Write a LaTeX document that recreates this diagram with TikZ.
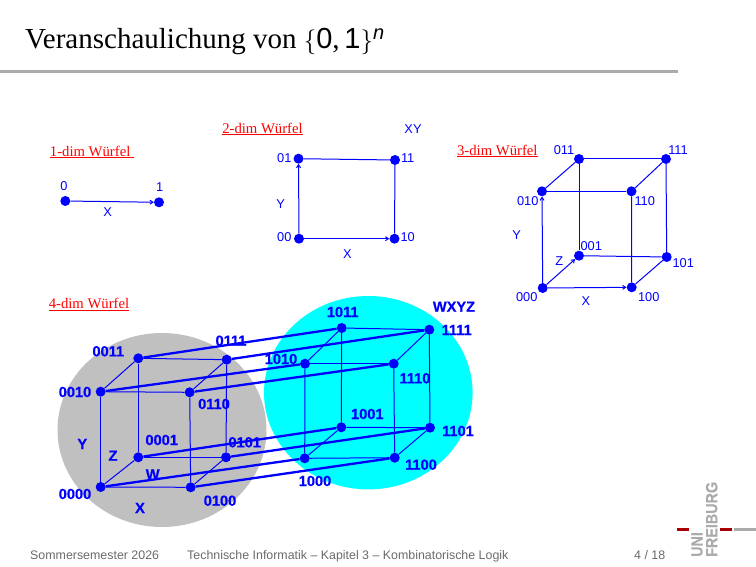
\documentclass[tikz,border=0pt]{standalone}
\usepackage{fontspec}
\setmainfont{Liberation Serif}
\setsansfont{Liberation Sans}
\newfontfamily\heavysans[BoldFeatures={FakeBold=0.6}]{Liberation Sans}
\usetikzlibrary{arrows.meta}
\definecolor{rulegrey}{HTML}{ABABAB}
\definecolor{footgrey}{HTML}{6A6A6A}
\definecolor{logored}{HTML}{A80000}
\definecolor{ballgrey}{HTML}{C0C0C0}
\definecolor{ballcyan}{HTML}{00FFFF}
\tikzset{
  dot/.style={circle,fill=blue,inner sep=0pt,minimum size=10pt},
  edge/.style={blue,line width=1pt},
  dimarrow/.style={edge,-{Straight Barb[length=3pt,width=4pt]}},
  bridge/.style={blue,line width=2.3pt},
  lab/.style={text=blue,inner sep=0pt,font=\sffamily\fontsize{12.8}{14}\selectfont},
  boldlab/.style={text=blue,inner sep=0pt,font=\heavysans\bfseries\fontsize{14.6}{16}\selectfont},
  heading/.style={text=red,inner sep=0pt,font=\rmfamily\fontsize{14.7}{18}\selectfont},
  foot/.style={text=footgrey,inner sep=0pt,anchor=base west,font=\sffamily\fontsize{12.4}{14}\selectfont},
  logotext/.style={text=rulegrey,inner sep=0pt,anchor=west,rotate=90,font=\heavysans\bfseries\fontsize{16.3}{18}\selectfont}
}
\begin{document}
\begin{tikzpicture}[x=1pt,y=-1pt]
  \useasboundingbox (0,0) rectangle (756,567);
  \node[inner sep=0pt,anchor=base west,font=\rmfamily\fontsize{29}{34}\selectfont] (title) at (25,49)
    {Veranschaulichung von $\{$\mbox{\sffamily 0},\,\mbox{\sffamily 1}$\}^{\mbox{\sffamily\itshape\fontsize{20}{22}\selectfont n}}$};
  \fill[rulegrey] (0,70.5) rectangle (678,73.5);

  % Kugeln
  \fill[ballcyan] (368.3,392.7) ellipse [x radius=104.3,y radius=96.7];
  \fill[ballgrey] (162,430) ellipse [x radius=104.5,y radius=97];

  % Ueberschriften
  \node[heading] (head1) at (92,152) {\underline{1-dim Würfel\ }};
  \node[heading] (head2) at (262.5,129) {\underline{2-dim Würfel}};
  \node[heading] (head3) at (497.3,151) {\underline{3-dim Würfel}};
  \node[heading] (head4) at (89,304.3) {\underline{4-dim Würfel}};

  % Knoten
  \foreach \name/\x/\y in {a0/65.3/201,a1/159/202.3,
      b00/299/238.7,b01/298.5/158.7,b11/395/160,b10/394.5/238.7,
      c000/542.7/288,c100/631.7/287.3,c010/542/191.3,c110/631.5/191.3,
      c011/579/159,c111/666/159,c001/579/255.7,c101/666.7/257,
      d0000/100.7/487,d0100/190.7/487.3,d0010/100.7/391.7,d0110/189.7/392.3,
      d0011/138.3/358.3,d0111/226.7/359.7,d0001/138.3/457.3,d0101/226/457.3,
      d1000/304.7/458.3,d1100/394.7/457.7,d1010/305/363.7,d1110/393.7/363.7,
      d1011/341.7/328,d1111/429.3/329.7,d1001/341.3/427.3,d1101/430/427.7}
    \node[dot] (\name) at (\x,\y) {};

  % 1-3 dim
  \draw[dimarrow] (a0) -- (a1);
  \draw[dimarrow] (b00) -- (b10);
  \draw[dimarrow] (b00) -- (b01);
  \draw[edge] (b01) -- (b11);
  \draw[edge] (b11) -- (b10);
  \draw[dimarrow] (c000) -- (c100);
  \draw[dimarrow] (c000) -- (c010);
  \draw[dimarrow] (c000) -- (c001);
  \foreach \p/\q in {c010/c110,c110/c100,c010/c011,c110/c111,c011/c111,c111/c101,c011/c001,c001/c101,c100/c101}
    \draw[edge] (\p) -- (\q);

  % 4 dim
  \foreach \u in {0,1} {
    \foreach \p/\q in {000/100,000/010,000/001,100/110,100/101,010/110,010/011,110/111,001/101,001/011,101/111,011/111}
      \draw[edge] (d\u\p) -- (d\u\q);
  }
  \foreach \p in {000,100,010,110,001,101,011,111}
    \draw[bridge] (d0\p) -- (d1\p);

  \foreach \t/\x/\y in {0/64/186.3,1/159.7/187.3,X/107.7/211.7,
      01/284.3/157.7,11/407.7/157.7,00/284.3/236.7,10/407.7/236.7,
      Y/280.7/204,X/347.3/253.7,XY/413/128.7,
      011/564/149.7,111/678/149.7,010/527.7/200.7,110/644.7/200.7,
      Y/516.7/235,Z/559.3/260.7,001/591.3/245.7,101/683.3/262.7,
      000/526.7/296.7,X/586/300.7,100/648.7/296.7}
    \node[lab] at (\x,\y) {\t};

  \foreach \t/\x/\y in {0011/108.3/351.3,0111/231/340.7,0010/75/392,0110/214/404,
      Y/82.3/444,Z/113/455.7,0001/161.7/440,0101/244.7/442.3,W/152.7/474.3,
      0000/75/494,0100/220/500.7,X/140/508,
      WXYZ/454/306.7,1011/342.7/312,1111/456.7/330,1010/281/359,1110/415/378.3,
      1001/367.3/414,1101/458/431,1100/421/464.7,1000/315/481}
    \node[boldlab] at (\x,\y) {\t};

  % Fusszeile
  \node[foot] (term) at (30,559) {Sommersemester 2026};
  \node[foot] (course) at (187,559) {Technische Informatik – Kapitel 3 – Kombinatorische Logik};
  \node[foot] (page) at (634,559) {4 / 18};

  % Logo
  \node[logotext] (uni) at (697,557) {\scalebox{0.88}[1]{UNI}};
  \node[logotext] (freiburg) at (711.7,557) {\scalebox{0.88}[1]{FREIBURG}};
  \fill[logored] (677,528) rectangle (688.7,531);
  \fill[logored] (720,528) rectangle (731.7,531);
  \fill[rulegrey] (734,528) rectangle (756,531);
\end{tikzpicture}
\end{document}
